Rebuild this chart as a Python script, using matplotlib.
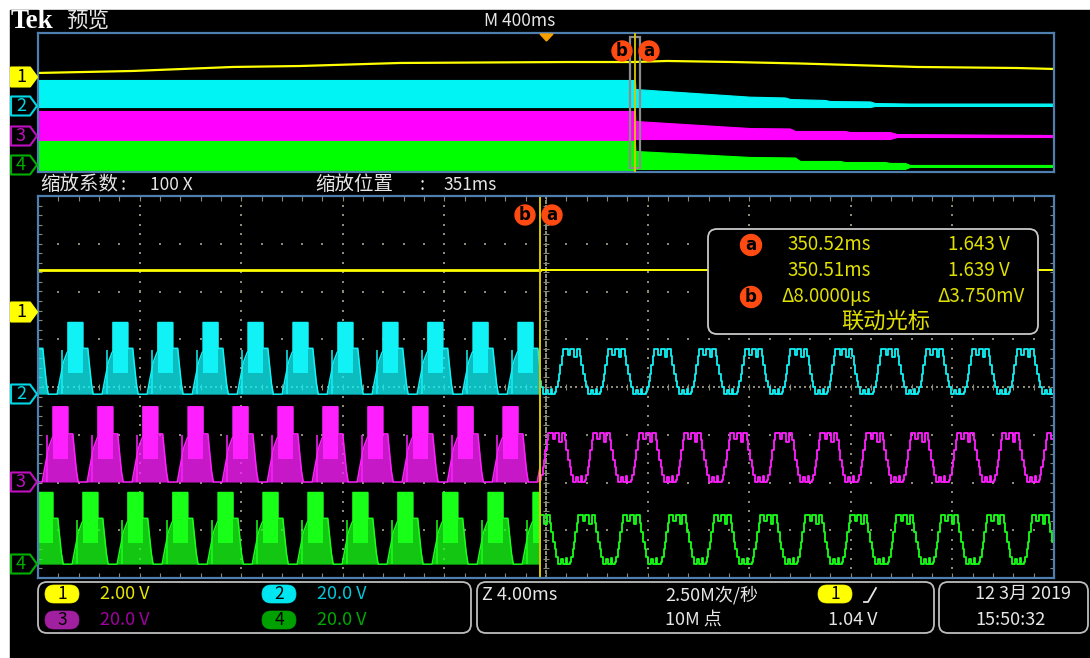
import numpy as np
import matplotlib
matplotlib.use('Agg')
import matplotlib.pyplot as plt
from matplotlib.patches import Rectangle, FancyBboxPatch, Polygon, Circle

plt.rcParams['font.family'] = ['Noto Sans CJK SC', 'DejaVu Sans']

# ---------------- channel settings ----------------
CH_NAMES = ['1', '2', '3', '4']
CH_SCALE_V = [2.0, 20.0, 20.0, 20.0]          # volts per division
CH_OFFSET_DIV = [5.57, 3.85, 2.01, 0.29]      # marker position (div from bottom)
SCALE_LABELS = ['2.00 V', '20.0 V', '20.0 V', '20.0 V']

# ---------------- overview record (ms from trigger) ----------------
OV_T_C1 = [-2000, -1626, -1232, -969, -575, 83, 343, 476, 736, 1000, 1197, 1461, 1854, 2000]
OV_V_C1 = [0.26, 0.49, 0.95, 1.06, 1.41, 1.52, 1.52, 1.64, 1.52, 1.35, 1.18, 0.95, 0.83, 0.72]

OV_T_C2 = [-2000, 350, 352, 803, 941, 961, 1098, 1118, 1276, 1295, 1433, 2000]
OV_TOP_C2 = [28.9, 28.9, 18.5, 9.7, 8.8, 7.0, 5.9, 4.7, 4.2, 2.4, 1.8, 1.8]
OV_BOT_C2 = [-2.2, -2.2, -2.2, -2.2, -2.2, -2.2, -2.2, -2.2, -2.2, -1.0, -1.0, -1.0]

OV_T_C3 = [-2000, 350, 352, 803, 961, 980, 1177, 1197, 1354, 1382, 2000]
OV_TOP_C3 = [30.0, 30.0, 18.5, 10.4, 9.9, 7.0, 7.0, 5.8, 5.8, 3.5, 2.4]
OV_BOT_C3 = [-3.4, -3.4, -2.2, -2.2, -2.2, -2.2, -2.2, -2.2, -2.2, 0.1, 0.1]

OV_T_C4 = [-2000, 350, 352, 803, 980, 1000, 1157, 1177, 1335, 1354, 1413, 1433, 2000]
OV_TOP_C4 = [29.9, 29.9, 18.4, 11.5, 10.9, 6.9, 6.9, 5.7, 5.7, 4.6, 4.6, 2.3, 2.3]
OV_BOT_C4 = [-3.5, -3.5, -2.3, -2.3, -2.3, -2.3, -2.3, -2.3, -2.3, -2.3, -2.3, 0.0, 0.0]

OV_CURSOR_MS = 350.5

# ---------------- zoomed window (ms) ----------------
ZOOM_POS_MS = 351.0
ZOOM_SPAN_MS = 40.0
CURSOR_MS = 350.76
CH1_LEVEL_V = 1.75

PERIOD_MS = 1.772
# plateau start times of channel 2
PULSE_MS = [330.41, 332.18, 333.95, 335.72, 337.50, 339.27, 341.04, 342.81, 344.58,
            346.35, 348.13, 349.90, 351.67, 353.44, 355.25, 357.02, 358.83, 360.61,
            362.38, 364.19, 365.96, 367.77, 369.54, 371.31]
CH_PHASE_MS = [0.0, 0.0, -0.59, 0.59]

# chopped (before cursor) pulse envelope, fraction of period / fraction of peak
CHOP_T = [-0.24, -0.18, -0.10, -0.02, 0.00, 0.00, 0.33, 0.33, 0.44, 0.47, 0.52, 0.56]
CHOP_V = [0.00, 0.20, 0.45, 0.58, 0.60, 1.00, 1.00, 0.64, 0.64, 0.45, 0.15, 0.00]
SOLID_T = [0.00, 0.33]          # densely chopped part of each pulse
SOLID_LOW = 0.30
SPIKE_T = -0.14
SPIKE_V = 0.62
CHOP_TOP_V = [0.0, 30.0, 31.5, 30.0]

# stepped waveform (after cursor), fraction of period / fraction of peak
STAIR_T = [-0.17, -0.15, -0.12, -0.09, -0.06, -0.03, 0.00, 0.10, 0.15, 0.25, 0.30,
           0.38, 0.41, 0.45, 0.48, 0.51, 0.55, 0.63, 0.66, 0.73, 0.76]
STAIR_V = [0.05, 0.15, 0.30, 0.45, 0.65, 0.85, 1.00, 0.88, 1.00, 0.82, 1.00,
           0.85, 0.65, 0.45, 0.30, 0.15, 0.00, 0.10, 0.00, 0.12, 0.00]
STAIR_TOP_V = [0.0, 18.8, 20.5, 20.5]

# ---------------- readout texts ----------------
CURSOR_A_TIME = '350.52ms'
CURSOR_A_VOLT = '1.643 V'
CURSOR_B_TIME = '350.51ms'
CURSOR_B_VOLT = '1.639 V'
DELTA_T = 'Δ8.0000μs'
DELTA_V = 'Δ3.750mV'

# ---------------- colours ----------------
TRACE = ['#ffff00', '#10f2f6', '#ff20ff', '#18ff18']
BAND = ['#ffff00', '#00f4f4', '#ff00ff', '#00ff00']
MARK = ['#ffff00', '#00d8e6', '#c010c0', '#00b000']
LABEL = ['#e6e600', '#00c8d8', '#a000a0', '#00a800']
BADGE = ['#ffff00', '#00e6f0', '#a020a0', '#00a000']
CURSOR_COL = '#d8c800'
ORANGE = '#ff4a12'
GRID_COL = '#8a8a78'
FRAME = '#4f7fae'
WHITE = '#e6e6e6'

W, H = 1090, 658
fig = plt.figure(figsize=(W / 100, H / 100), dpi=100)
fig.patch.set_facecolor('white')


def frect(x0, y0, x1, y1):
    return [x0 / W, (H - y1) / H, (x1 - x0) / W, (y1 - y0) / H]


bg = fig.add_axes([0, 0, 1, 1])
bg.set_xlim(0, W); bg.set_ylim(H, 0); bg.axis('off')
bg.add_patch(Rectangle((10, 10), W - 10, H - 10, color='black'))


def vdiv(ch, v):
    return CH_OFFSET_DIV[ch] + np.asarray(v, dtype=float) / CH_SCALE_V[ch]


# ================= overview =================
ov = fig.add_axes(frect(38, 33, 1054, 172))
ov.set_facecolor('black')
ov.set_xlim(-2000, 2000); ov.set_ylim(0, 8)
ov.set_xticks([]); ov.set_yticks([])
for s in ov.spines.values():
    s.set_color(FRAME); s.set_linewidth(1.6)

ov.plot(OV_T_C1, vdiv(0, OV_V_C1), color=BAND[0], lw=1.6)
for ch, T, TOP, BOT in [(1, OV_T_C2, OV_TOP_C2, OV_BOT_C2),
                        (2, OV_T_C3, OV_TOP_C3, OV_BOT_C3),
                        (3, OV_T_C4, OV_TOP_C4, OV_BOT_C4)]:
    ov.fill_between(T, vdiv(ch, BOT), vdiv(ch, TOP), color=BAND[ch], lw=0.8,
                    edgecolor=BAND[ch])

ov.add_patch(Rectangle((ZOOM_POS_MS - ZOOM_SPAN_MS / 2, 0.23), ZOOM_SPAN_MS, 7.54,
                       fill=False, edgecolor='#8c8c8c', lw=1.6, zorder=5))
ov.axvline(OV_CURSOR_MS, color=CURSOR_COL, lw=1.3, zorder=6)

# ================= zoomed view =================
ax = fig.add_axes(frect(38, 196, 1054, 578))
ax.set_facecolor('black')
x0, x1 = ZOOM_POS_MS - ZOOM_SPAN_MS / 2, ZOOM_POS_MS + ZOOM_SPAN_MS / 2
ax.set_xlim(x0, x1); ax.set_ylim(0, 8)
ax.set_xticks([]); ax.set_yticks([])
for s in ax.spines.values():
    s.set_color(FRAME); s.set_linewidth(1.6)
    s.set_zorder(10)

# graticule
dx = ZOOM_SPAN_MS / 10
gx, gy = [], []
for k in range(1, 10):
    if k == 5:
        continue
    ys = np.arange(0.2, 8, 0.2)
    gx += [x0 + k * dx] * len(ys); gy += list(ys)
for j in range(1, 8):
    if j == 4:
        continue
    xs = np.arange(x0 + dx / 5, x1, dx / 5)
    gx += list(xs); gy += [j] * len(xs)
ax.scatter(gx, gy, s=2.2, marker='s', color=GRID_COL, linewidths=0, zorder=1)
cy = np.arange(0.05, 8, 0.05)
ax.scatter([ZOOM_POS_MS] * len(cy), cy, s=1.6, marker='s', color=GRID_COL, linewidths=0, zorder=1)
cx = np.arange(x0 + dx / 20, x1, dx / 20)
ax.scatter(cx, [4] * len(cx), s=1.6, marker='s', color=GRID_COL, linewidths=0, zorder=1)
tk = np.arange(0.2, 8, 0.2)
ax.hlines(tk, ZOOM_POS_MS - 0.12, ZOOM_POS_MS + 0.12, color=GRID_COL, lw=0.8, zorder=1)
ax.hlines(tk, x0, x0 + 0.14, color=GRID_COL, lw=0.8, zorder=1)
ax.hlines(tk, x1 - 0.14, x1, color=GRID_COL, lw=0.8, zorder=1)
tx = np.arange(x0 + dx / 5, x1, dx / 5)
ax.vlines(tx, 4 - 0.06, 4 + 0.06, color=GRID_COL, lw=0.8, zorder=1)
ax.vlines(tx, 8 - 0.1, 8, color=GRID_COL, lw=0.8, zorder=1)
ax.vlines(tx, 0, 0.1, color=GRID_COL, lw=0.8, zorder=1)

clip_left = Rectangle((x0, 0), CURSOR_MS - x0, 8, transform=ax.transData)
clip_right = Rectangle((CURSOR_MS, 0), x1 - CURSOR_MS, 8, transform=ax.transData)

for ch in (1, 2, 3):
    col = TRACE[ch]
    starts = np.array(PULSE_MS) + CH_PHASE_MS[ch]
    base = vdiv(ch, 0.0)
    top = CHOP_TOP_V[ch]
    # chopped section: hatched envelope, solid core, outline, spikes
    t = np.concatenate([p + PERIOD_MS * np.array(CHOP_T) for p in starts])
    v = np.concatenate([top * np.array(CHOP_V) for p in starts])
    f = ax.fill_between(t, base, vdiv(ch, v), color=col, alpha=0.78, lw=0, zorder=3)
    arts = [f]
    for p in starts:
        ts = p + PERIOD_MS * np.array(SOLID_T)
        arts.append(ax.fill_between(ts, vdiv(ch, top * SOLID_LOW), vdiv(ch, top),
                                    color=col, lw=0, zorder=3))
    ln, = ax.plot(t, vdiv(ch, v), color=col, lw=1.1, zorder=3)
    sp = ax.vlines(starts + PERIOD_MS * SPIKE_T, base, vdiv(ch, top * SPIKE_V),
                   color=col, lw=1.1, zorder=3)
    arts += [ln, sp]
    for a in arts:
        a.set_clip_path(clip_left)
    # stepped section
    t2 = np.concatenate([p + PERIOD_MS * np.array(STAIR_T) for p in starts])
    v2 = np.concatenate([STAIR_TOP_V[ch] * np.array(STAIR_V) for p in starts])
    ln2, = ax.plot(t2, vdiv(ch, v2), drawstyle='steps-post', color=col, lw=1.3, zorder=3)
    ln2.set_clip_path(clip_right)

y1 = vdiv(0, CH1_LEVEL_V)
ax.plot([x0, CURSOR_MS], [y1, y1], color=TRACE[0], lw=2.0, zorder=4)
ax.plot([CURSOR_MS, x1], [y1, y1], color=TRACE[0], lw=1.4, zorder=4)
ax.axvline(CURSOR_MS, color=CURSOR_COL, lw=1.4, zorder=6)

# ================= overlay: labels, markers, panels =================
ol = fig.add_axes([0, 0, 1, 1])
ol.set_xlim(0, W); ol.set_ylim(H, 0); ol.axis('off')
ol.patch.set_alpha(0)

ol.text(11, 21, 'Tek', family=['Liberation Serif', 'DejaVu Serif'], fontweight='bold',
        fontsize=19.5, color='white', va='center', ha='left')
ol.text(66, 21, '预览', fontsize=15.5, color=WHITE, va='center', ha='left')
ol.text(520, 21, 'M 400ms', fontsize=12.5, color=WHITE, va='center', ha='center')
ol.add_patch(Polygon([(540, 34), (553, 34), (546.5, 41)], closed=True, color='#f5a000'))

ol.text(40, 185, '缩放系数', fontsize=14, color=WHITE, va='center', ha='left')
ol.text(121, 185, ':', fontsize=13, color=WHITE, va='center', ha='left')
ol.text(150, 185, '100 X', fontsize=12.5, color=WHITE, va='center', ha='left')
ol.text(315, 185, '缩放位置', fontsize=14, color=WHITE, va='center', ha='left')
ol.text(420, 185, ':', fontsize=13, color=WHITE, va='center', ha='left')
ol.text(443, 185, '351ms', fontsize=12.5, color=WHITE, va='center', ha='left')


def cursor_badge(x, y, letter, r=10, fs=12):
    ol.add_patch(Circle((x, y), r, color=ORANGE, zorder=8))
    ol.text(x, y - 0.5, letter, fontsize=fs, fontweight='bold', color='black',
            ha='center', va='center', zorder=9, family='DejaVu Sans')


cursor_badge(622, 51, 'b')
cursor_badge(649, 51, 'a')
cursor_badge(525, 215, 'b')
cursor_badge(552, 215, 'a')


def ch_marker(y, ch):
    pts = [(11, y - 9.5), (30, y - 9.5), (37, y), (30, y + 9.5), (11, y + 9.5)]
    if ch == 0:
        ol.add_patch(Polygon(pts, closed=True, facecolor=MARK[0], edgecolor=MARK[0],
                             lw=1.5, joinstyle='round', zorder=7))
        tc = 'black'
    else:
        ol.add_patch(Polygon(pts, closed=True, facecolor='black', edgecolor=MARK[ch],
                             lw=1.5, joinstyle='round', zorder=7))
        tc = MARK[ch]
    ol.text(21, y, CH_NAMES[ch], fontsize=13, color=tc, ha='center', va='center', zorder=8)


for ch, y in enumerate([77, 106, 136, 165]):
    ch_marker(y, ch)
for ch, y in enumerate([312, 394, 482, 564]):
    ch_marker(y, ch)

# cursor readout
ol.add_patch(FancyBboxPatch((708, 229), 330, 105, boxstyle='round,pad=0,rounding_size=9',
                            facecolor='black', edgecolor='#c8c8c8', lw=1.3, zorder=7))
RY = '#e0e000'
cursor_badge(751, 245, 'a', r=10.5)
cursor_badge(751, 297, 'b', r=10.5)
ol.text(787, 244, CURSOR_A_TIME, fontsize=13.5, color=RY, va='center', zorder=9)
ol.text(1010, 244, CURSOR_A_VOLT, fontsize=13.5, color=RY, va='center', ha='right', zorder=9)
ol.text(787, 270, CURSOR_B_TIME, fontsize=13.5, color=RY, va='center', zorder=9)
ol.text(1010, 270, CURSOR_B_VOLT, fontsize=13.5, color=RY, va='center', ha='right', zorder=9)
ol.text(781, 296, DELTA_T, fontsize=13.5, color=RY, va='center', zorder=9)
ol.text(1025, 296, DELTA_V, fontsize=13.5, color=RY, va='center', ha='right', zorder=9)
ol.text(886, 321, '联动光标', fontsize=16, color=RY, va='center', ha='center', zorder=9)

# bottom panels
for (a, b) in [(38, 471), (477, 934), (939, 1088)]:
    ol.add_patch(FancyBboxPatch((a, 582), b - a, 51, boxstyle='round,pad=0,rounding_size=9',
                                facecolor='black', edgecolor='#bdbdbd', lw=1.3))


def badge(x, y, txt, fc):
    ol.add_patch(FancyBboxPatch((x - 17, y - 9), 34, 18, boxstyle='round,pad=0,rounding_size=9',
                                facecolor=fc, edgecolor=fc, lw=0.5, zorder=8))
    ol.text(x, y, txt, fontsize=12.5, color='black', ha='center', va='center', zorder=9)


pos = [(62, 594), (279, 594), (62, 620), (279, 620)]
for ch in range(4):
    bx, by = pos[ch]
    badge(bx, by, CH_NAMES[ch], BADGE[ch])
    ol.text(bx + 38, by, SCALE_LABELS[ch], fontsize=13, color=LABEL[ch], va='center', ha='left')

ol.text(482, 595, 'Z 4.00ms', fontsize=13, color=WHITE, va='center', ha='left')
ol.text(665, 595, '2.50M次/秒', fontsize=13, color=WHITE, va='center', ha='left')
ol.text(665, 620, '10M 点', fontsize=13, color=WHITE, va='center', ha='left')
badge(835, 594, '1', BADGE[0])
ol.plot([864, 868, 876], [602, 602, 588], color=WHITE, lw=1.3)
ol.text(828, 620, '1.04 V', fontsize=13, color=WHITE, va='center', ha='left')
ol.text(975, 594, '12 3月 2019', fontsize=13, color=WHITE, va='center', ha='left')
ol.text(975, 620, '15:50:32', fontsize=13, color=WHITE, va='center', ha='left')

fig.savefig('out.png', dpi=100, facecolor=fig.get_facecolor())
